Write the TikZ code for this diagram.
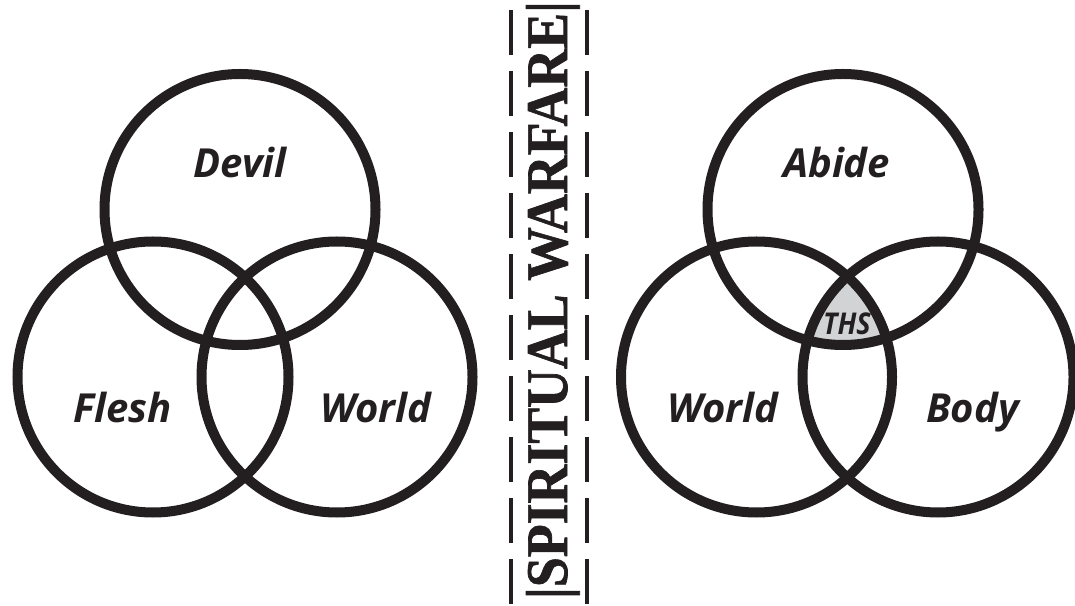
\documentclass[tikz,border=0pt]{standalone}
\usepackage{fontspec}
\setsansfont{Open Sans}
\newfontfamily\bannerfont[FakeBold=1.2]{Liberation Serif Bold}
\definecolor{vnInk} {HTML}{231F20}
\definecolor{vnGrey}{HTML}{D1D3D4}

\begin{document}
\begin{tikzpicture}[x=1pt,y=1pt,
      ring/.style={draw=vnInk,line width=10pt},
      tag/.style={anchor=base,text=vnInk,
                  font=\sffamily\bfseries\itshape\fontsize{40}{48}\selectfont},
      rail/.style={draw=vnInk,line width=4.5pt,dash pattern=on 45pt off 16pt}]
    \useasboundingbox (0,0) rectangle (1075,605);

    % left diagram
    \coordinate (devil)  at (240,395.5);
    \coordinate (flesh)  at (153,228);
    \coordinate (worldL) at (337,228);
    % right diagram
    \coordinate (abide)  at (843,395.5);
    \coordinate (worldR) at (756.5,228);
    \coordinate (body)   at (938,228);

    \begin{scope}
      \clip (abide) circle (135.5);
      \clip (worldR) circle (135.5);
      \fill[vnGrey] (body) circle (135.5);
    \end{scope}

    \foreach \c in {devil,flesh,worldL,abide,worldR,body}
      \draw[ring] (\c) circle (135.5);

    \node[tag] (tDevil)  at (240,427)   {Devil};
    \node[tag] (tFlesh)  at (122.5,182) {Flesh};
    \node[tag] (tWorldL) at (376,182)   {World};
    \node[tag] (tAbide)  at (836.5,427) {Abide};
    \node[tag] (tWorldR) at (722.5,182) {World};
    \node[tag] (tBody)   at (972.5,182) {Body};
    \node[tag,font=\sffamily\bfseries\itshape\fontsize{30}{36}\selectfont] (tThs) at (847,270)
      {\scalebox{0.9}[1]{THS}};

    % the dashed band in the middle
    \coordinate (railLtop) at (511,595);
    \coordinate (railLbot) at (511,-10);
    \coordinate (railRtop) at (587,595);
    \coordinate (railRbot) at (587,-10);
    \draw[rail] (railLtop) -- (railLbot);
    \draw[rail] (railRtop) -- (railRbot);

    \node[rotate=90,anchor=base,text=vnInk,inner sep=0pt,
          font=\bannerfont\fontsize{59}{60}\selectfont] (banner) at (567,305)
      {\resizebox{598pt}{\height}{|SPIRITUAL WARFARE|}};
  \end{tikzpicture}
\end{document}
